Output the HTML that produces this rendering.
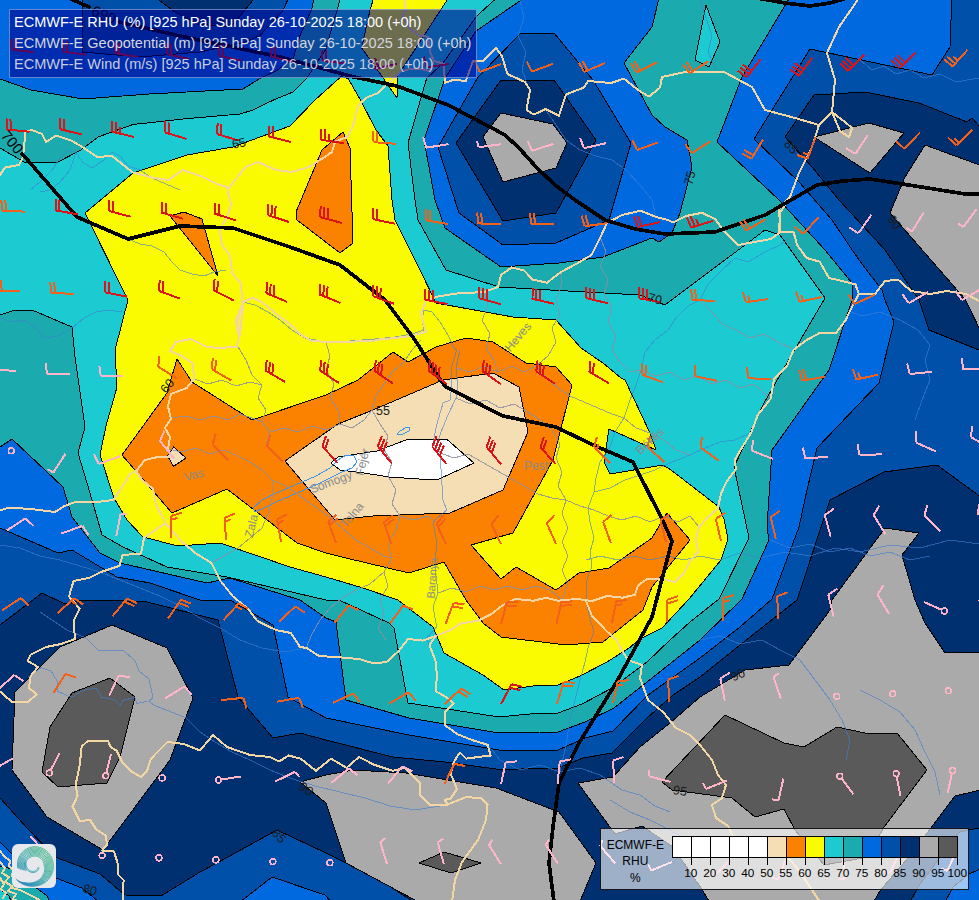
<!DOCTYPE html>
<html><head><meta charset="utf-8"><title>ECMWF-E RHU 925 hPa</title>
<style>
html,body{margin:0;padding:0;background:#003070;}
body{width:979px;height:900px;overflow:hidden;position:relative;font-family:"Liberation Sans",sans-serif;}
#map{position:absolute;left:0;top:0;width:979px;height:900px;overflow:hidden;}
#title{position:absolute;left:9px;top:9px;width:468px;height:69px;box-sizing:border-box;background:rgba(0,0,139,0.57);border:1px solid rgba(190,205,235,0.55);}
#title div{position:absolute;left:4px;white-space:nowrap;font-size:14.5px;line-height:16px;}
#legend{position:absolute;left:600px;top:828px;width:369px;height:62px;box-sizing:border-box;background:rgba(255,255,255,0.62);border:1px solid #15151c;}
#legend .lab{position:absolute;left:-0.7px;width:70px;text-align:center;font-size:12px;line-height:14px;color:#000;}
#legend .bx{position:absolute;top:7px;height:22px;width:19px;box-sizing:border-box;border:1px solid #000;}
#legend .tk{position:absolute;top:28px;width:1px;height:7.5px;background:#000;}
#legend .n{position:absolute;top:36.7px;width:30px;margin-left:-15.2px;text-align:center;font-size:11.8px;line-height:14px;color:#000;}
#logo{position:absolute;left:12px;top:844px;width:44px;height:44px;border-radius:6px;background:#e6e8ec;}
</style></head><body>
<div id="map">
<svg width="979" height="900" viewBox="0 0 979 900" style="position:absolute;left:0;top:0" shape-rendering="crispEdges">
<rect x="0" y="0" width="979" height="900" fill="#003070"/>
<g stroke="#000" stroke-width="1" stroke-linejoin="round">
<polygon fill="#0050aa" points="-6,625 0,625 42,593 65,604 82,600 100,600 147,602 218,620 238,697 273,738 300,733 326,740 393,757 445,762 503,770 540,768 558,768 583,758 612,753 647,718 673,695 700,677 740,645 797,600 830,500 884,472 937,465 985,500 985,350 979,350 929,330 919,300 885,250 839,200 812,167 785,137 814,95 865,92 919,103 967,122 972,118 985,133 985,-6 -6,-6"/>
<polygon fill="#0050aa" points="-6,798 0,798 27,828 55,857 100,874 125,895 161,896 200,872 217,863 277,830 326,853 380,880 420,906 -6,906"/>
<polygon fill="#0050aa" points="985,827 969,830 958.6,832.4 918,887 908,906 985,906"/>
<polygon fill="#0069e0" points="-6,528 0,528 58,553 72,550 117,577 150,583 200,600 230,600 273,625 288,697 326,718 409,735 499,750 540,750 558,750 585,738 613,731 648,695 700,658 740,627 772,599 799,527 807,490 817,448 879,383 894,322 885,300 882,290 859,260 832,220 799,182 754,139 810,49 932,75 950,47 952,-6 -6,-6"/>
<polygon fill="#0069e0" points="-6,842 0,842 12,854 56,878 82,888 104,906 -6,906"/>
<polygon fill="#0069e0" points="235,906 272,877 325,895 335,906"/>
<polygon fill="#0069e0" points="985,867 969,874 953,887 943,906 985,906"/>
<polygon fill="#1baaae" points="-6,447 0,447 12,439 63,487 72,517 100,553 120,563 207,583 230,578 300,600 326,618 336,622 346,700 409,718 499,733 540,732 558,732 585,722 614,708 647,682 700,640 742,599 769,540 767,527 772,450 829,370 852,300 852,283 825,250 779,200 717,142 742,77 792,-6 -6,-6"/>
<polygon fill="#1baaae" points="-6,866 0,866 12,869 47,896 52,906 -6,906"/>
<polygon fill="#1bcbd1" points="-6,889 0,889 9,896 13,906 -6,906"/>
<polygon fill="#1bcbd1" points="-6,148 0,148 24,162 56,163 81,150 98,137 133,124.5 183,119 240,114 253,110 273.5,100 293,92 306.6,78.4 326,49 331,30.6 337,11 341.5,-6 501,-6 476.8,16 442.5,63.7 426.6,78.4 408,143 415,200 418,220 446,270 499,287 550,290 640,295 665,305 765,230 780,235 825,298 787,363 764,403 734,467 749,538 719,599 690,622 670,640 647,662 613,687.5 582,704 558,713 540,713 499,717 408,703 394,628 389,623 339,600 326,600 227,577 167,567 123,547 102,535 90,493 78,453 85,427 75,357 72,327 32,310 15,310 0,315 -6,315"/>
<polygon fill="#fafa00" points="85,213 133,173 187,155 233,147 290,126 315,100 341,76.6 348,78.4 360.5,100 376,130 388,146 392,200 395,220 420,270 436,303 513,317 556,320 581,348 603,363 621,378 625,380 650,433 656,450 609,429 604,462 610,474 663,465 671,470 719,507 724,519 728,539 721,560 689,599 662,628 638,640 630,647.5 607,662 580,676 558,685 540,685 504,690 483,675 444,653 433,627 398,600 363,588 326,577 290,567 220,543 178,546 143,537 127,520 114,498 100,455 106,426 117,387 115,350 128,300"/>
<polygon fill="#fafa00" points="375,-6 370,10 361.7,48 380,73.5 397,98 397.5,76 412,54 451,-6"/>
<polygon fill="#fa8200" points="177,359 192,382 252,420 326,395 358,380 393,352 408,362 436,347 466,338 493,342 526,363 556,367 572,385 553,460 513,533 471,545 501,579 516,567 556,590 579,573 609,568 652,538 667,513 690,540 652,587 643,610 603,642 566,645 501,637 483,623 466,600 444,562 409,573 346,558 326,553 297,543 227,489 172,513 122,455 167,393"/>
<polygon fill="#fa8200" points="170,216 184,212 202,219 218,276"/>
<polygon fill="#fa8200" points="343,132 350,148 353,243 340,253 297,220 296,212 322,150"/>
<polygon fill="#f5deb3" points="285,461 338,424 373,410 443,380 493,373 519,387 528,432 503,490 450,513 373,516 335,520"/>
<polygon fill="#f5deb3" points="167.5,456 173.6,447 186,458 173.6,466.4"/>
<polygon fill="#ffffff" points="331,463 338,457 377,451 407,439.5 447,439.5 474,463 439,479 426,479.5 389,477 364,473 340,470"/>
<polygon fill="#1bcbd1" points="706,5 720,42 709,67 695,60"/>
<polygon fill="#0069e0" points="-6,-6 315,-6 311.5,10 300,35.5 293,59 276,71 260,78.4 243,89 149,94 83,99 31,90 0,79 -6,79"/>
<polygon fill="#0050aa" points="82,-6 82,52 140,57 200,52 245,42 260,35.5 282,12 290.6,-6"/>
<polygon fill="#003070" points="151,-6 175,12 197,24 231,27 258,-6"/>
<polygon fill="#0069e0" points="530,-6 476,31 445,78 424,140 435,200 445,228 501,267 559,263 603,257 652,238 659,242 672,233 680,213 692,167 687,140 665,127 652,115 624,63 652,27 660,-6"/>
<polygon fill="#0050aa" points="438,147 478,77 521,33 554,33 593,80 631,143 609,220 556,243 503,245 459,213"/>
<polygon fill="#003070" points="456,143 501,80 554,80 596,140 556,213 503,221"/>
<polygon fill="#aaaaaa" points="483,137 501,113 553,124 567,143 556,168 503,182"/>
<polygon fill="#aaaaaa" points="814,137 869,123 904,133 870,173"/>
<polygon fill="#aaaaaa" points="925,145 985,167 985,340 965,299 890,213 905,177"/>
<polygon fill="#aaaaaa" points="15,692 60,647 112,625 167,648 193,698 170,760 103,850 47,817 12,770"/>
<polygon fill="#5a5a5a" points="72,693 110,678 135,697 120,757 107,783 58,787 42,772 50,727"/>
<polygon fill="#aaaaaa" points="300,782 326,775 353,770 406,773 496,788 559,812 596,863 578,906 426,906 346,863 326,803"/>
<polygon fill="#5a5a5a" points="419,863 444,852 481,863 451,873"/>
<polygon fill="#aaaaaa" points="578,783 613,777 640,747 670,723 700,697 745,670 789,665 830,610 832,600 885,528 919,533 902,555 915,600 925,623 945,653 985,652 985,789 955,796 931,828 906.6,859.5 880.6,890 871,906 712,906 701,888 673,847 642,826 615,834"/>
<polygon fill="#5a5a5a" points="725,715 784,743 804,747 837,727 865,733 897,733 927,770 899,807 883.5,828 880.6,833.5 863,858 824,865 795,830 784,809 755,817 732,798 672,790 662,782"/>
</g>
<polyline fill="none" stroke="#3f7fd0" stroke-width="1" stroke-linejoin="round" stroke-linecap="round" stroke-opacity="0.6" points="243,302 255,305 268,312 280,320 292,330 305,338 326,342 350,341 375,339 395,337 412,334 424,330 422,320 424,310 432,312 440,322 448,335 454,348 456.7,350 451.7,366.7 452,385 450,400 443,403 436.7,425 433,443 440,453 441.7,480 443,500 446.7,510 433,521.7 436.7,541.7 435,566.7 438,593 433,606.7 436.7,626.7 426.7,638 430,648 436,660 437,676 436,690 446,697 454,703 445,712 445,725 457,734 472,740 488,745 500,760 520,770 540,765 560,772 580,768 600,775 622,790 640,795 655,806 670,812"/>
<polyline fill="none" stroke="#3f7fd0" stroke-width="1" stroke-linejoin="round" stroke-linecap="round" stroke-opacity="0.6" points="460,350 456,368 458,385 456,398 448,415 441,432 436,448"/>
<polyline fill="none" stroke="#3f7fd0" stroke-width="1" stroke-linejoin="round" stroke-linecap="round" stroke-opacity="0.6" points="795,233 780,245 765,252 748,262 735,258 722,270 708,284 700,300 688,306 676,318 668,330 655,340 645,352 641,370 636,385 630,400 624,418 615,432 610,447 600,462 596,478 594,492 588,508 590,522 594,538 590,552 592,566 587,580 586,601 590,618 594,632 588,648 585,662 580,680 575,700 570,720 566,745 560,772"/>
<polyline fill="none" stroke="#3f7fd0" stroke-width="1" stroke-linejoin="round" stroke-linecap="round" stroke-opacity="0.6" points="594,492 610,488 625,480 640,475 655,470 672,462 690,455 705,448 720,442 735,440 752,432"/>
<polyline fill="none" stroke="#3f7fd0" stroke-width="1" stroke-linejoin="round" stroke-linecap="round" stroke-opacity="0.6" points="586,560 600,556 618,560 634,556 650,560 668,556 684,560 700,556 720,560 740,553 760,558 785,552 810,556 835,548 860,552 890,545 920,548 950,540 979,544"/>
<polyline fill="none" stroke="#3f7fd0" stroke-width="1" stroke-linejoin="round" stroke-linecap="round" stroke-opacity="0.6" points="0,545 20,548 40,556 60,560 80,566 100,572 120,580 140,588 160,596 180,606 200,618 220,628 240,640 262,648 285,652 306,648"/>
<polyline fill="none" stroke="#3f7fd0" stroke-width="1" stroke-linejoin="round" stroke-linecap="round" stroke-opacity="0.6" points="40,612 55,622 67,630 86,638 98,650 122.6,650 135,660.6 139,671 149,679 153,697.4 149,701.5 155,705.6 175.7,713.8 186,717.8 200,732 215,742 232,752 250,760 270,770 290,778 315,786 340,792 365,798 390,806 415,810 440,806"/>
<polyline fill="none" stroke="#3f7fd0" stroke-width="1" stroke-linejoin="round" stroke-linecap="round" stroke-opacity="0.6" points="28.6,677 40.9,667.8 51,670.9 57,681 57,691 71.5,697.4 81.7,691 96,688 102,697.4 114.4,699.5 120.5,705.6 122.6,700.5 134.8,697.4 136.9,703.5 147,701.5"/>
<polyline fill="none" stroke="#3f7fd0" stroke-width="1" stroke-linejoin="round" stroke-linecap="round" stroke-opacity="0.6" points="0,318 12,322 24,320 36,328 44,338 58,336 72,328 84,318 96,312 108,310 122,312"/>
<polyline fill="none" stroke="#3f7fd0" stroke-width="1" stroke-linejoin="round" stroke-linecap="round" stroke-opacity="0.6" points="30,190 40,182 52,170 60,158 68,150 76,152 82,162 92,168 104,160 112,152 120,156 128,166 140,170 152,178 166,184 180,190"/>
<polyline fill="none" stroke="#3f7fd0" stroke-width="1" stroke-linejoin="round" stroke-linecap="round" stroke-opacity="0.6" points="76,152 70,170 60,182 50,190 40,192"/>
<polyline fill="none" stroke="#3f7fd0" stroke-width="1" stroke-linejoin="round" stroke-linecap="round" stroke-opacity="0.6" points="128,239 140,244 152,246 164,252 172,262 180,270 192,274 204,276 214,272 226,270"/>
<polyline fill="none" stroke="#3f7fd0" stroke-width="1" stroke-linejoin="round" stroke-linecap="round" stroke-opacity="0.6" points="520,0 524,18 518,36 526,52 522,70 528,86"/>
<polyline fill="none" stroke="#3f7fd0" stroke-width="1" stroke-linejoin="round" stroke-linecap="round" stroke-opacity="0.6" points="545,109 556,125 566,140 580,150 596,156 612,160 626,170 640,185 652,200 656,217"/>
<polyline fill="none" stroke="#3f7fd0" stroke-width="1" stroke-linejoin="round" stroke-linecap="round" stroke-opacity="0.6" points="700,0 706,18 712,36 708,52 716,70"/>
<polyline fill="none" stroke="#3f7fd0" stroke-width="1" stroke-linejoin="round" stroke-linecap="round" stroke-opacity="0.6" points="860,60 872,70 884,66 896,74 910,70 924,78 940,74 956,82 979,78"/>
<polyline fill="none" stroke="#3f7fd0" stroke-width="1" stroke-linejoin="round" stroke-linecap="round" stroke-opacity="0.6" points="846,310 862,316 880,312 900,320 918,330 930,345 925,360 930,380 922,400 915,420"/>
<polyline fill="none" stroke="#3f7fd0" stroke-width="1" stroke-linejoin="round" stroke-linecap="round" stroke-opacity="0.6" points="770,540 790,548 810,544 830,552 850,548 870,556 890,552 910,560 930,556"/>
<polyline fill="none" stroke="#3f7fd0" stroke-width="1" stroke-linejoin="round" stroke-linecap="round" stroke-opacity="0.6" points="700,640 720,636 740,644 762,640 780,650 800,660 815,680 830,700 842,720 850,740 846,760"/>
<polyline fill="none" stroke="#3f7fd0" stroke-width="1" stroke-linejoin="round" stroke-linecap="round" stroke-opacity="0.6" points="860,690 880,700 900,712 915,730 925,752 935,772 940,795"/>
<polyline fill="none" stroke="#3f7fd0" stroke-width="1" stroke-linejoin="round" stroke-linecap="round" stroke-opacity="0.6" points="610,800 630,812 650,820 670,830 690,842 700,860"/>
<polyline fill="none" stroke="#3d94e8" stroke-width="1" stroke-linejoin="round" stroke-linecap="round"  points="253,508 262,500 274,494 288,488 302,482 316,476 330,468 338,460 346,455 354,456 357,462 352,468 342,472 330,478 318,484 304,490 290,496 276,502 264,508 255,512 253,508"/>
<polyline fill="none" stroke="#3d94e8" stroke-width="1" stroke-linejoin="round" stroke-linecap="round"  points="397,434 400,431 407,427 410,428 409,431 401,435 397,434"/>
<polyline fill="none" stroke="#8b8fa0" stroke-width="1" stroke-linejoin="round" stroke-linecap="round" stroke-opacity="0.85" points="238,347 246,360 252,375 262,385 258,398 266,410 262,422 270,432 266,446"/>
<polyline fill="none" stroke="#8b8fa0" stroke-width="1" stroke-linejoin="round" stroke-linecap="round" stroke-opacity="0.85" points="171,418 186,416 200,420 214,416 228,420 240,414 252,418 262,422"/>
<polyline fill="none" stroke="#8b8fa0" stroke-width="1" stroke-linejoin="round" stroke-linecap="round" stroke-opacity="0.85" points="194,379 208,384 222,380 236,386 250,382 262,385"/>
<polyline fill="none" stroke="#8b8fa0" stroke-width="1" stroke-linejoin="round" stroke-linecap="round" stroke-opacity="0.85" points="168,449 182,452 196,448 210,454 224,450 238,456 250,462 262,470 272,480"/>
<polyline fill="none" stroke="#8b8fa0" stroke-width="1" stroke-linejoin="round" stroke-linecap="round" stroke-opacity="0.85" points="270,432 284,428 298,432 312,426 326,430 340,424 352,428 364,420 372,410"/>
<polyline fill="none" stroke="#8b8fa0" stroke-width="1" stroke-linejoin="round" stroke-linecap="round" stroke-opacity="0.85" points="326,342 330,356 326,370 334,384 330,398 338,410 340,424"/>
<polyline fill="none" stroke="#8b8fa0" stroke-width="1" stroke-linejoin="round" stroke-linecap="round" stroke-opacity="0.85" points="372,410 376,396 384,384 392,372 404,362 412,350 421,340"/>
<polyline fill="none" stroke="#8b8fa0" stroke-width="1" stroke-linejoin="round" stroke-linecap="round" stroke-opacity="0.85" points="372,410 380,424 388,436 384,450 392,462 388,476 396,490 392,504 400,516"/>
<polyline fill="none" stroke="#8b8fa0" stroke-width="1" stroke-linejoin="round" stroke-linecap="round" stroke-opacity="0.85" points="400,516 414,520 428,516 436,522"/>
<polyline fill="none" stroke="#8b8fa0" stroke-width="1" stroke-linejoin="round" stroke-linecap="round" stroke-opacity="0.85" points="400,516 396,530 388,544 392,558 384,572 388,586 380,600 384,614 378,628 386,640"/>
<polyline fill="none" stroke="#8b8fa0" stroke-width="1" stroke-linejoin="round" stroke-linecap="round" stroke-opacity="0.85" points="272,480 286,486 300,496 314,506 328,516 342,528 356,540 370,548 384,556 392,558"/>
<polyline fill="none" stroke="#8b8fa0" stroke-width="1" stroke-linejoin="round" stroke-linecap="round" stroke-opacity="0.85" points="211,563 224,556 238,548 250,538 262,528 268,514 272,498 272,480"/>
<polyline fill="none" stroke="#8b8fa0" stroke-width="1" stroke-linejoin="round" stroke-linecap="round" stroke-opacity="0.85" points="306,648 312,634 320,620 330,608 342,598 356,590 370,584 384,572"/>
<polyline fill="none" stroke="#8b8fa0" stroke-width="1" stroke-linejoin="round" stroke-linecap="round" stroke-opacity="0.85" points="456,368 470,372 484,366 498,372 512,366 524,372 536,366"/>
<polyline fill="none" stroke="#8b8fa0" stroke-width="1" stroke-linejoin="round" stroke-linecap="round" stroke-opacity="0.85" points="456,398 470,404 486,400 500,408 514,404 528,412 540,420 552,430 560,444 556,458 562,472 558,486 566,500"/>
<polyline fill="none" stroke="#8b8fa0" stroke-width="1" stroke-linejoin="round" stroke-linecap="round" stroke-opacity="0.85" points="536,366 548,356 556,342 552,328 560,314 556,300 561,286 561,272"/>
<polyline fill="none" stroke="#8b8fa0" stroke-width="1" stroke-linejoin="round" stroke-linecap="round" stroke-opacity="0.85" points="536,366 546,378 558,388 570,396 584,402 598,408 612,414 624,418"/>
<polyline fill="none" stroke="#8b8fa0" stroke-width="1" stroke-linejoin="round" stroke-linecap="round" stroke-opacity="0.85" points="484,292 488,306 482,320 490,334 486,348 494,360 498,372"/>
<polyline fill="none" stroke="#8b8fa0" stroke-width="1" stroke-linejoin="round" stroke-linecap="round" stroke-opacity="0.85" points="600,237 606,252 600,266 608,280 604,294 612,308 608,322 616,336 612,350 620,362 630,372 641,370"/>
<polyline fill="none" stroke="#8b8fa0" stroke-width="1" stroke-linejoin="round" stroke-linecap="round" stroke-opacity="0.85" points="641,370 656,376 670,372 684,380 698,376 712,384 726,380 740,388 754,384 770,398"/>
<polyline fill="none" stroke="#8b8fa0" stroke-width="1" stroke-linejoin="round" stroke-linecap="round" stroke-opacity="0.85" points="700,300 712,312 722,324 736,330 750,338 764,334 778,342 793,349"/>
<polyline fill="none" stroke="#8b8fa0" stroke-width="1" stroke-linejoin="round" stroke-linecap="round" stroke-opacity="0.85" points="624,418 636,428 650,433 664,440 676,450 690,455"/>
<polyline fill="none" stroke="#8b8fa0" stroke-width="1" stroke-linejoin="round" stroke-linecap="round" stroke-opacity="0.85" points="566,500 580,506 594,510 608,516 622,520 636,516 650,522 664,516 678,522 690,516 699,527"/>
<polyline fill="none" stroke="#8b8fa0" stroke-width="1" stroke-linejoin="round" stroke-linecap="round" stroke-opacity="0.85" points="440,453 454,458 468,454 482,462 496,470 510,478 524,486 538,494 552,498 566,500"/>
<polyline fill="none" stroke="#8b8fa0" stroke-width="1" stroke-linejoin="round" stroke-linecap="round" stroke-opacity="0.85" points="566,500 562,514 568,528 562,542 568,556 562,570 568,584 562,600"/>
<polyline fill="none" stroke="#8b8fa0" stroke-width="1" stroke-linejoin="round" stroke-linecap="round" stroke-opacity="0.85" points="438,593 452,588 466,592 480,586 494,590 508,586 522,590 536,586 550,590 562,600"/>
<polyline fill="none" stroke="#f3d6a2" stroke-width="2" stroke-linejoin="round" stroke-linecap="round"  points="0,175 5,167.5 19,165 23,157 25.5,131.7 32,130 42,134 46,142 56,135.5 71.5,140.6 84,148 97,157 112,156 133,172.6 153,177.7 168.5,180 182.6,170 201.7,176.4 217,184 227,187 231,204.5 227,217 219.6,230 222,245 230,255.6 232,273 241,283.6 242.6,304 237.5,322 240,335 243.4,302"/>
<polyline fill="none" stroke="#f3d6a2" stroke-width="2" stroke-linejoin="round" stroke-linecap="round"  points="227.7,190 235,180 245.5,167 258,162 276,170 291.5,172 309,167 324.7,157 332,152 335,141.7 347.7,136.6 352.8,126.4 358,106 365.6,98 378,93 386,85.5 393.5,78.4 399.6,72 410,69 420,68.6 429,71 434,61 443.7,63.7 445,83 453.5,79.7 465.8,81 473,61 476.8,60.7 483,60.7 489,55 496,48 502,56 507.4,74 525,82 530,90 526.5,110 534,114.6 545.6,109 559,115.7 566,94.4 584,87.6 588,81 611,83 624,78.6 638,90 649,96.6 660,87.6 662,77 685,72 724,72 752,87 765,110 795,118 819,125 832,112 845,122 852,128 849,137 840,131 832,112"/>
<polyline fill="none" stroke="#f3d6a2" stroke-width="2" stroke-linejoin="round" stroke-linecap="round"  points="832,112 835,80 827,53 839,27 859,-2"/>
<polyline fill="none" stroke="#f3d6a2" stroke-width="2" stroke-linejoin="round" stroke-linecap="round"  points="434,61 430,51.5 427.8,36.8 419,35.5 409.4,28 403,16 405.7,8.6 404.5,-2"/>
<polyline fill="none" stroke="#f3d6a2" stroke-width="2" stroke-linejoin="round" stroke-linecap="round"  points="819,125 812,147 799,173 790,197 780,213 779,233"/>
<polyline fill="none" stroke="#f3d6a2" stroke-width="2" stroke-linejoin="round" stroke-linecap="round"  points="779,209.5 790,196.5"/>
<polyline fill="none" stroke="#f3d6a2" stroke-width="2" stroke-linejoin="round" stroke-linecap="round"  points="380,339.4 395,338 410.6,336 426,331.8 423,322.6 421,313 426,301 438,296.5 456.6,293.5 484,292 498,287 501,275 511.8,267.4 524,270.5 533,279.7 547,282.7 561,272 576,264 591.5,255 600.6,236.8 607,223 622,215 640.5,210.7 656,217 668,220 673,222.6 686,216 702,212.8 715,219 725,232 738,245 754.5,242 770.8,239 780.5,232 793.6,232 797,245 806.6,258 819.7,261.7 829,278 842.5,281 855.5,284.5 858.8,294 852,307 845.7,320 836,333 819.7,333 806.6,340 793.6,349.7 787,366 774,379 770.8,398.5 757.7,415 756,420 751.5,432 742,447.6 734.6,460 736,469 727,481 721,493.5 717.7,509 707,518 699,527 696,539.5 698,552 690,561 684,573 675,582 662.6,579 647,579 638,585.5 635,594.7 622.7,597.7 607,596 592,601 576.8,599 558,600.7 546,597.7 533.6,600.7 515,599 503,605 490.7,614.5 478.4,620.6 460,623.7 450.8,630 435.5,636 423,640.6 408,639 398.7,651 386.5,662 374,663.5 359,659 340.5,657.4 319,656 306.8,648 300,647 291,633 275.8,630 257.4,621 248,608.7 233,596.5 220.6,581 211.5,563 196,553.5 181,541 165.5,523 156,504.5 153,489 142,480 136,471 145,460 157.6,457 171,457 168,449 170,437 165,428 171,418.7 168,406.5 171,394 186.7,388 194,379 193,363.5 182,356 170,351 176,342 191,339 206.6,346.7 219,348 237,346.7 238.8,336 235.7,320.6 243.4,302 252.6,297.7 262,302 277,314.5 289.4,323.7 298.6,333 311,340.6 326,342 344.5,342 375,340.6 380,339.4"/>
<polyline fill="none" stroke="#f3d6a2" stroke-width="2" stroke-linejoin="round" stroke-linecap="round"  points="780.5,232 779,209.5 790,196.5"/>
<polyline fill="none" stroke="#f3d6a2" stroke-width="2" stroke-linejoin="round" stroke-linecap="round"  points="858.8,294 875,294 885,281 898,279.6 911,291 930.5,294 946.7,291 966,294 981,302"/>
<polyline fill="none" stroke="#f3d6a2" stroke-width="2" stroke-linejoin="round" stroke-linecap="round"  points="0,510.6 9,507.6 30.6,509 55,512 64.4,506 76.6,501.5 101,501.5 113.4,500 122.6,486 130,474 136,471"/>
<polyline fill="none" stroke="#f3d6a2" stroke-width="2" stroke-linejoin="round" stroke-linecap="round"  points="165.5,523 144,538 141,553.5 122.6,555 119.5,565.8 101,572 89,578 73.5,581 69,596.5 79.7,608.7 73.5,621 75,639 61,644 46,647 30.6,654.7 27.6,660.8 38,667 30.6,676 29,688 36.8,694.5 27.6,702 12,702 0,691.5"/>
<polyline fill="none" stroke="#f3d6a2" stroke-width="2" stroke-linejoin="round" stroke-linecap="round"  points="435.5,636 429.4,645 435.5,660.5 437,675.8 435.5,691 446,697 454,703.4 444.7,712.6 444.7,725 457,734 472,740 487.6,744.8 490.7,755.5 478.4,757 466,758.6 460,752.4 454,761.6 450.8,774 457,789 450.8,798.4 444.7,800 447.7,804.5 466,797 481.5,798.4 487.6,804.5 486,820 478,840 462,862 455,880 452,902"/>
<polyline fill="none" stroke="#f3d6a2" stroke-width="2" stroke-linejoin="round" stroke-linecap="round"  points="81.7,746.5 87.8,741 108,741 111,747.5 116.4,750.5 122.6,762.8 130.7,771 141,777 147,771 151,758.7 159,750.5 167.5,742 184,744 200,750.5 213,735 227,747 250,755 270,757 279,761.6 288.4,755.5 300.6,758.6 316,770.8 331,758.6 346.6,767.8 359,757 374,764.7 392.6,770.8 404.8,767.8 414,777 420,783 420,795.4 429.4,804.5 447.7,804.5"/>
<polyline fill="none" stroke="#f3d6a2" stroke-width="2" stroke-linejoin="round" stroke-linecap="round"  points="586,601 592,616 607,631.5 616.6,640.6 623,652 628,660 642,665 640,678 648,700 663,712 676,728 690,735 700,745 712,760 718,775 726,785 722,798 712,805 716,818 728,826 736,842 752,848 770,845 786,855 800,872 812,890 820,902"/>
<polyline fill="none" stroke="#f3d6a2" stroke-width="2" stroke-linejoin="round" stroke-linecap="round"  points="81.7,746.5 79.7,765 75.6,785 77.6,796 72.5,806.6 79.7,821 90,820 96,829 106,836 107,845 102,850.5 114,851.5 118.5,866 117.5,874 123.6,880 122.6,902"/>
<polyline fill="none" stroke="#f3d6a2" stroke-width="2" stroke-linejoin="round" stroke-linecap="round"  points="0,862 5,868 2,873 9,877 5,882 12,886 8,891 16,894 13,899 20,902"/>
<polyline fill="none" stroke="#f3d6a2" stroke-width="2" stroke-linejoin="round" stroke-linecap="round"  points="0,878 4,884 1,889 6,893 3,898"/>
<polyline fill="none" stroke="#f3d6a2" stroke-width="2" stroke-linejoin="round" stroke-linecap="round"  points="0,851 4,856 10,861 9,866 13,870 12,876"/>
<polyline fill="none" stroke="#f3d6a2" stroke-width="2" stroke-linejoin="round" stroke-linecap="round"  points="12,888 20,890 28,894 36,898 42,902"/>
<polyline fill="none" stroke="#000" stroke-width="3.7" stroke-linejoin="round" stroke-linecap="round"  points="69,-2 89,7"/>
<polyline fill="none" stroke="#000" stroke-width="3.7" stroke-linejoin="round" stroke-linecap="round"  points="119,22 180,36 280,57 354,77 397,86 448,105 490,127 505,135 519,148 537,168 555,185 575,200 605,220 635,229 665,234 715,232 765,215 817,185 843,181 870,179 915,186 965,194 985,194"/>
<polyline fill="none" stroke="#000" stroke-width="3.7" stroke-linejoin="round" stroke-linecap="round"  points="22,154 25,157 77,217 128,239 180,226 233,228 290,247 340,265 385,300 415,340 441,381 446,387 503,416 556,427 593,445 633,462 662,519 672,541 667,560 652,617 616,683 579,743 559,783 553,827 549,863 554,902"/>
<polyline fill="none" stroke="#000" stroke-width="3.7" stroke-linejoin="round" stroke-linecap="round"  points="757,-2 785,3 810,6 830,3 847,-2"/>
<path d="M34.1 52.1L11.7 49.7M11.7 49.7L11.0 38.7M15.6 50.1L14.9 39.1" fill="none" stroke="#dc1418" stroke-width="2" stroke-linecap="butt"/>
<path d="M85.8 54.7L63.5 51.6M63.5 51.6L63.2 40.6M67.4 52.1L67.0 41.1" fill="none" stroke="#dc1418" stroke-width="2" stroke-linecap="butt"/>
<path d="M137.6 57.0L115.4 53.1M115.4 53.1L115.4 42.1M119.3 53.8L119.3 42.8" fill="none" stroke="#dc1418" stroke-width="2" stroke-linecap="butt"/>
<path d="M189.4 59.0L167.4 54.4M167.4 54.4L167.5 43.4M171.2 55.2L171.3 44.2" fill="none" stroke="#dc1418" stroke-width="2" stroke-linecap="butt"/>
<path d="M241.3 60.7L219.4 55.7M219.4 55.7L219.5 44.7M223.2 56.5L223.3 45.5" fill="none" stroke="#dc1418" stroke-width="2" stroke-linecap="butt"/>
<path d="M293.2 62.1L271.3 56.6M271.3 56.6L271.6 45.6M275.1 57.6L275.3 46.6" fill="none" stroke="#dc1418" stroke-width="2" stroke-linecap="butt"/>
<path d="M345.1 63.1L322.7 61.1M322.7 61.1L321.9 50.2M326.6 61.5L325.7 50.5" fill="none" stroke="#dc1418" stroke-width="2" stroke-linecap="butt"/>
<path d="M397.0 63.8L375.2 69.2M375.2 69.2L371.3 58.9M379.0 68.3L375.1 58.0" fill="none" stroke="#dc1418" stroke-width="2" stroke-linecap="butt"/>
<path d="M449.0 64.1L426.7 67.3M426.7 67.3L423.8 56.7" fill="none" stroke="#dc1418" stroke-width="2" stroke-linecap="butt"/>
<path d="M500.9 64.2L479.8 71.9M479.8 71.9L475.0 62.0" fill="none" stroke="#f2601a" stroke-width="2" stroke-linecap="butt"/>
<path d="M552.9 63.9L531.7 71.6M531.7 71.6L527.0 61.7" fill="none" stroke="#f2601a" stroke-width="2" stroke-linecap="butt"/>
<path d="M604.8 63.2L584.1 72.0M584.1 72.0L578.9 62.3M587.7 70.5L582.5 60.8" fill="none" stroke="#f2601a" stroke-width="2" stroke-linecap="butt"/>
<path d="M656.7 62.3L636.7 72.5M636.7 72.5L630.9 63.1M640.2 70.7L634.4 61.4" fill="none" stroke="#f2601a" stroke-width="2" stroke-linecap="butt"/>
<path d="M708.6 61.0L689.8 73.3M689.8 73.3L683.2 64.5M693.0 71.1L686.5 62.3" fill="none" stroke="#f2601a" stroke-width="2" stroke-linecap="butt"/>
<path d="M760.5 59.4L746.7 77.1M746.7 77.1L737.8 70.7M749.1 74.1L740.2 67.6M751.5 71.0L742.6 64.5" fill="none" stroke="#dc1418" stroke-width="2" stroke-linecap="butt"/>
<path d="M812.4 57.5L799.1 75.7M799.1 75.7L790.0 69.5M801.4 72.5L792.3 66.4M803.7 69.4L794.6 63.2" fill="none" stroke="#dc1418" stroke-width="2" stroke-linecap="butt"/>
<path d="M864.2 55.2L848.3 71.1M848.3 71.1L840.2 63.6M851.0 68.3L843.0 60.8M853.8 65.6L845.7 58.1" fill="none" stroke="#dc1418" stroke-width="2" stroke-linecap="butt"/>
<path d="M915.9 52.6L899.5 68.0M899.5 68.0L891.6 60.2M902.3 65.3L894.5 57.6M905.2 62.6L897.4 54.9" fill="none" stroke="#dc1418" stroke-width="2" stroke-linecap="butt"/>
<path d="M967.6 49.7L952.6 66.4M952.6 66.4L944.1 59.3M955.2 63.5L946.8 56.4M957.8 60.6L952.8 56.4" fill="none" stroke="#f2601a" stroke-width="2" stroke-linecap="butt"/>
<path d="M29.5 131.8L7.1 129.5M7.1 129.5L6.5 118.5M11.0 129.9L10.4 118.9" fill="none" stroke="#dc1418" stroke-width="2" stroke-linecap="butt"/>
<path d="M81.7 134.5L59.9 129.1M59.9 129.1L60.1 118.1M63.7 130.0L63.9 119.0" fill="none" stroke="#dc1418" stroke-width="2" stroke-linecap="butt"/>
<path d="M134.0 136.9L112.1 131.8M112.1 131.8L112.3 120.8M115.9 132.7L116.1 121.7M119.7 133.6L119.8 127.1" fill="none" stroke="#dc1418" stroke-width="2" stroke-linecap="butt"/>
<path d="M186.4 138.9L164.9 132.4M164.9 132.4L165.2 121.4M168.6 133.5L169.0 122.5" fill="none" stroke="#dc1418" stroke-width="2" stroke-linecap="butt"/>
<path d="M238.7 140.6L217.2 134.1M217.2 134.1L217.6 123.1M221.0 135.2L221.3 124.2" fill="none" stroke="#dc1418" stroke-width="2" stroke-linecap="butt"/>
<path d="M291.1 142.0L269.3 136.6M269.3 136.6L269.5 125.6M273.1 137.5L273.3 126.5" fill="none" stroke="#dc1418" stroke-width="2" stroke-linecap="butt"/>
<path d="M343.6 143.1L321.3 139.9M321.3 139.9L321.0 128.9M325.1 140.5L324.8 129.5M329.0 141.0L328.8 134.5" fill="none" stroke="#dc1418" stroke-width="2" stroke-linecap="butt"/>
<path d="M396.0 143.8L373.6 142.2M373.6 142.2L372.6 131.2M377.5 142.5L376.5 131.5" fill="none" stroke="#f2601a" stroke-width="2" stroke-linecap="butt"/>
<path d="M448.5 144.1L426.2 147.7M426.2 147.7L423.2 137.1" fill="none" stroke="#ffb4c8" stroke-width="2" stroke-linecap="butt"/>
<path d="M500.9 144.2L478.6 147.3M478.6 147.3L476.9 141.0" fill="none" stroke="#ffb4c8" stroke-width="2" stroke-linecap="butt"/>
<path d="M553.4 143.9L532.0 150.8M532.0 150.8L527.5 140.8" fill="none" stroke="#ffb4c8" stroke-width="2" stroke-linecap="butt"/>
<path d="M605.8 143.2L583.9 148.3M583.9 148.3L580.2 137.9" fill="none" stroke="#ffb4c8" stroke-width="2" stroke-linecap="butt"/>
<path d="M658.3 142.3L637.1 150.0M637.1 150.0L632.4 140.0" fill="none" stroke="#f2601a" stroke-width="2" stroke-linecap="butt"/>
<path d="M710.7 141.0L691.8 153.2M691.8 153.2L685.2 144.4" fill="none" stroke="#f2601a" stroke-width="2" stroke-linecap="butt"/>
<path d="M763.1 139.3L751.5 158.6M751.5 158.6L741.8 153.3M753.5 155.3L743.9 149.9" fill="none" stroke="#f2601a" stroke-width="2" stroke-linecap="butt"/>
<path d="M815.4 137.3L807.7 158.5M807.7 158.5L797.3 155.1M809.0 154.8L802.9 152.8" fill="none" stroke="#f2601a" stroke-width="2" stroke-linecap="butt"/>
<path d="M867.7 135.0L855.5 153.9M855.5 153.9L846.0 148.2" fill="none" stroke="#ffb4c8" stroke-width="2" stroke-linecap="butt"/>
<path d="M920.0 132.4L904.6 148.8M904.6 148.8L896.3 141.6" fill="none" stroke="#f2601a" stroke-width="2" stroke-linecap="butt"/>
<path d="M972.2 129.4L956.3 145.3M956.3 145.3L948.2 137.8M959.0 142.6L954.3 138.1" fill="none" stroke="#f2601a" stroke-width="2" stroke-linecap="butt"/>
<path d="M24.9 211.6L2.5 210.8M2.5 210.8L1.2 199.9M6.4 210.9L5.1 200.0" fill="none" stroke="#f2601a" stroke-width="2" stroke-linecap="butt"/>
<path d="M77.7 214.3L55.5 210.4M55.5 210.4L55.5 199.4M59.4 211.1L59.4 200.1" fill="none" stroke="#dc1418" stroke-width="2" stroke-linecap="butt"/>
<path d="M130.5 216.7L108.8 210.9M108.8 210.9L109.0 199.9M112.5 211.9L112.8 200.9" fill="none" stroke="#dc1418" stroke-width="2" stroke-linecap="butt"/>
<path d="M183.3 218.8L161.7 212.6M161.7 212.6L162.0 201.6M165.5 213.7L165.8 202.7" fill="none" stroke="#dc1418" stroke-width="2" stroke-linecap="butt"/>
<path d="M236.2 220.6L214.8 213.6M214.8 213.6L215.2 202.6M218.5 214.8L219.0 203.8" fill="none" stroke="#dc1418" stroke-width="2" stroke-linecap="butt"/>
<path d="M289.1 222.0L267.7 215.0M267.7 215.0L268.2 204.0M271.4 216.2L271.9 205.2M275.1 217.4L275.6 206.4" fill="none" stroke="#dc1418" stroke-width="2" stroke-linecap="butt"/>
<path d="M342.0 223.0L320.3 217.2M320.3 217.2L320.6 206.2M324.1 218.2L324.4 207.2M327.8 219.2L328.1 208.2" fill="none" stroke="#dc1418" stroke-width="2" stroke-linecap="butt"/>
<path d="M395.0 223.8L373.0 219.1M373.0 219.1L373.1 208.1M376.8 219.9L376.9 208.9" fill="none" stroke="#dc1418" stroke-width="2" stroke-linecap="butt"/>
<path d="M448.0 224.1L425.8 220.2M425.8 220.2L425.8 209.2M429.6 220.9L429.6 209.9" fill="none" stroke="#f2601a" stroke-width="2" stroke-linecap="butt"/>
<path d="M500.9 224.2L478.4 223.4M478.4 223.4L477.1 212.5M482.3 223.5L481.0 212.6" fill="none" stroke="#f2601a" stroke-width="2" stroke-linecap="butt"/>
<path d="M553.9 223.9L531.4 223.9M531.4 223.9L529.8 213.0M535.3 223.9L533.7 213.0" fill="none" stroke="#f2601a" stroke-width="2" stroke-linecap="butt"/>
<path d="M606.8 223.2L584.6 226.3M584.6 226.3L581.6 215.7M588.4 225.8L585.5 215.2" fill="none" stroke="#f2601a" stroke-width="2" stroke-linecap="butt"/>
<path d="M659.8 222.2L637.8 226.9M637.8 226.9L634.2 216.5M641.6 226.1L638.1 215.7" fill="none" stroke="#dc1418" stroke-width="2" stroke-linecap="butt"/>
<path d="M712.7 220.9L691.2 227.5M691.2 227.5L686.9 217.4M694.9 226.3L690.6 216.2M698.7 225.2L696.1 219.2" fill="none" stroke="#dc1418" stroke-width="2" stroke-linecap="butt"/>
<path d="M765.6 219.2L746.1 230.5M746.1 230.5L739.9 221.4M749.5 228.5L743.3 219.4" fill="none" stroke="#f2601a" stroke-width="2" stroke-linecap="butt"/>
<path d="M818.5 217.2L803.4 233.9M803.4 233.9L795.0 226.9" fill="none" stroke="#f2601a" stroke-width="2" stroke-linecap="butt"/>
<path d="M871.3 214.9L858.4 233.3M858.4 233.3L849.1 227.3" fill="none" stroke="#ffb4c8" stroke-width="2" stroke-linecap="butt"/>
<path d="M924.0 212.2L912.1 231.3M912.1 231.3L906.5 228.0" fill="none" stroke="#ffb4c8" stroke-width="2" stroke-linecap="butt"/>
<path d="M976.8 209.1L963.2 227.1M963.2 227.1L957.9 223.4" fill="none" stroke="#ffb4c8" stroke-width="2" stroke-linecap="butt"/>
<path d="M20.4 291.3L-2.1 290.5M-2.1 290.5L-3.4 279.6M1.8 290.7L0.5 279.7" fill="none" stroke="#f2601a" stroke-width="2" stroke-linecap="butt"/>
<path d="M73.6 294.1L51.2 292.6M51.2 292.6L50.2 281.6M55.1 292.8L54.1 281.9" fill="none" stroke="#f2601a" stroke-width="2" stroke-linecap="butt"/>
<path d="M126.9 296.6L104.9 292.3M104.9 292.3L104.9 281.3M108.7 293.0L108.7 282.0" fill="none" stroke="#dc1418" stroke-width="2" stroke-linecap="butt"/>
<path d="M180.3 298.7L159.1 291.0M159.1 291.0L159.7 280.0M162.8 292.4L163.4 281.4" fill="none" stroke="#dc1418" stroke-width="2" stroke-linecap="butt"/>
<path d="M233.7 300.5L213.6 290.3M213.6 290.3L214.6 279.3M217.1 292.1L218.0 281.1" fill="none" stroke="#dc1418" stroke-width="2" stroke-linecap="butt"/>
<path d="M287.1 301.9L266.4 293.1M266.4 293.1L267.1 282.2M270.0 294.7L270.7 283.7M273.6 296.2L274.3 285.2" fill="none" stroke="#dc1418" stroke-width="2" stroke-linecap="butt"/>
<path d="M340.5 303.0L319.7 294.6M319.7 294.6L320.3 283.6M323.3 296.0L323.9 285.1M326.9 297.5L327.6 286.5" fill="none" stroke="#dc1418" stroke-width="2" stroke-linecap="butt"/>
<path d="M394.0 303.7L372.8 296.1M372.8 296.1L373.4 285.1M376.5 297.4L377.1 286.4M380.2 298.7L380.7 287.7" fill="none" stroke="#dc1418" stroke-width="2" stroke-linecap="butt"/>
<path d="M447.5 304.1L425.4 299.8M425.4 299.8L425.4 288.8M429.2 300.6L429.3 289.6M433.0 301.3L433.1 290.3" fill="none" stroke="#dc1418" stroke-width="2" stroke-linecap="butt"/>
<path d="M500.9 304.2L479.2 298.3M479.2 298.3L479.5 287.4M483.0 299.4L483.2 288.4M486.7 300.4L487.0 289.4" fill="none" stroke="#dc1418" stroke-width="2" stroke-linecap="butt"/>
<path d="M554.4 303.9L532.5 298.8M532.5 298.8L532.6 287.8M536.3 299.7L536.4 288.7M540.1 300.6L540.2 289.6" fill="none" stroke="#dc1418" stroke-width="2" stroke-linecap="butt"/>
<path d="M607.9 303.2L585.9 298.1M585.9 298.1L586.1 287.1M589.7 299.0L589.9 288.0M593.5 299.9L593.7 288.9" fill="none" stroke="#dc1418" stroke-width="2" stroke-linecap="butt"/>
<path d="M661.3 302.2L639.2 298.3M639.2 298.3L639.2 287.3M643.0 299.0L643.0 288.0M646.8 299.6L646.8 288.6" fill="none" stroke="#dc1418" stroke-width="2" stroke-linecap="butt"/>
<path d="M714.7 300.8L692.3 300.1M692.3 300.1L691.0 289.1M696.2 300.2L694.9 289.3" fill="none" stroke="#f2601a" stroke-width="2" stroke-linecap="butt"/>
<path d="M768.1 299.1L745.9 302.3M745.9 302.3L742.9 291.7M749.7 301.7L748.0 295.5" fill="none" stroke="#f2601a" stroke-width="2" stroke-linecap="butt"/>
<path d="M821.5 297.1L799.5 301.8M799.5 301.8L796.0 291.4M803.3 301.0L801.2 294.8" fill="none" stroke="#f2601a" stroke-width="2" stroke-linecap="butt"/>
<path d="M874.8 294.7L854.4 304.2M854.4 304.2L849.0 294.7" fill="none" stroke="#f2601a" stroke-width="2" stroke-linecap="butt"/>
<path d="M928.1 292.0L908.6 303.2M908.6 303.2L902.4 294.1" fill="none" stroke="#ffb4c8" stroke-width="2" stroke-linecap="butt"/>
<path d="M981.3 288.9L961.8 300.1M961.8 300.1L955.7 291.0" fill="none" stroke="#ffb4c8" stroke-width="2" stroke-linecap="butt"/>
<path d="M15.8 371.1L-6.6 369.1M-6.6 369.1L-7.4 358.1" fill="none" stroke="#ffb4c8" stroke-width="2" stroke-linecap="butt"/>
<path d="M69.6 373.9L47.1 373.9M47.1 373.9L45.5 363.0" fill="none" stroke="#ffb4c8" stroke-width="2" stroke-linecap="butt"/>
<path d="M123.4 376.4L100.9 376.4M100.9 376.4L99.3 365.6" fill="none" stroke="#ffb4c8" stroke-width="2" stroke-linecap="butt"/>
<path d="M177.3 378.6L158.2 366.7M158.2 366.7L159.4 355.8" fill="none" stroke="#f2601a" stroke-width="2" stroke-linecap="butt"/>
<path d="M231.1 380.4L211.7 369.2M211.7 369.2L212.8 358.2M215.0 371.1L216.1 360.2" fill="none" stroke="#f2601a" stroke-width="2" stroke-linecap="butt"/>
<path d="M285.1 381.9L265.6 370.6M265.6 370.6L266.7 359.7M269.0 372.6L270.1 361.6M272.3 374.5L273.4 363.6" fill="none" stroke="#dc1418" stroke-width="2" stroke-linecap="butt"/>
<path d="M339.0 383.0L320.1 370.7M320.1 370.7L321.4 359.8M323.4 372.9L324.7 361.9M326.7 375.0L327.9 364.1" fill="none" stroke="#dc1418" stroke-width="2" stroke-linecap="butt"/>
<path d="M393.0 383.7L374.5 370.8M374.5 370.8L375.9 359.9M377.7 373.1L379.1 362.2M380.9 375.3L382.3 364.4" fill="none" stroke="#dc1418" stroke-width="2" stroke-linecap="butt"/>
<path d="M447.0 384.1L428.8 370.9M428.8 370.9L430.2 360.0M431.9 373.2L433.3 362.3M435.1 375.5L436.5 364.6M438.2 377.8L439.6 366.9" fill="none" stroke="#dc1418" stroke-width="2" stroke-linecap="butt"/>
<path d="M500.9 384.2L482.5 371.3M482.5 371.3L483.9 360.4M485.7 373.5L487.1 362.6M488.9 375.7L490.3 364.8" fill="none" stroke="#dc1418" stroke-width="2" stroke-linecap="butt"/>
<path d="M554.9 383.9L536.3 371.3M536.3 371.3L537.6 360.4M539.5 373.5L540.8 362.5M542.7 375.6L544.0 364.7" fill="none" stroke="#dc1418" stroke-width="2" stroke-linecap="butt"/>
<path d="M608.9 383.2L589.4 371.9M589.4 371.9L590.5 361.0M592.8 373.9L593.9 362.9" fill="none" stroke="#dc1418" stroke-width="2" stroke-linecap="butt"/>
<path d="M662.9 382.2L641.7 374.5M641.7 374.5L642.3 363.5M645.4 375.8L645.9 364.8" fill="none" stroke="#f2601a" stroke-width="2" stroke-linecap="butt"/>
<path d="M716.8 380.8L694.8 376.1M694.8 376.1L694.9 365.1" fill="none" stroke="#f2601a" stroke-width="2" stroke-linecap="butt"/>
<path d="M770.7 379.0L748.2 378.3M748.2 378.3L746.9 367.3" fill="none" stroke="#f2601a" stroke-width="2" stroke-linecap="butt"/>
<path d="M824.6 377.0L802.3 380.5M802.3 380.5L799.3 369.9M806.2 379.9L803.1 369.3" fill="none" stroke="#f2601a" stroke-width="2" stroke-linecap="butt"/>
<path d="M878.4 374.5L856.5 379.6M856.5 379.6L852.8 369.2M860.3 378.7L858.1 372.6" fill="none" stroke="#f2601a" stroke-width="2" stroke-linecap="butt"/>
<path d="M932.2 371.7L909.8 374.1M909.8 374.1L907.2 363.4" fill="none" stroke="#ffb4c8" stroke-width="2" stroke-linecap="butt"/>
<path d="M985.9 368.6L963.4 369.4M963.4 369.4L961.5 358.5" fill="none" stroke="#ffb4c8" stroke-width="2" stroke-linecap="butt"/>
<circle cx="11.3" cy="450.8" r="2.9" fill="none" stroke="#ffb4c8" stroke-width="1.6"/>
<path d="M65.5 453.7L53.3 472.6M53.3 472.6L47.7 469.2" fill="none" stroke="#ffb4c8" stroke-width="2" stroke-linecap="butt"/>
<path d="M119.9 456.3L98.7 464.0M98.7 464.0L94.0 454.1" fill="none" stroke="#ffb4c8" stroke-width="2" stroke-linecap="butt"/>
<path d="M174.2 458.5L160.1 441.0M160.1 441.0L164.3 430.8" fill="none" stroke="#ffb4c8" stroke-width="2" stroke-linecap="butt"/>
<path d="M228.6 460.3L212.7 444.4M212.7 444.4L215.7 433.9" fill="none" stroke="#f2601a" stroke-width="2" stroke-linecap="butt"/>
<path d="M283.0 461.8L267.1 445.9M267.1 445.9L270.1 435.3" fill="none" stroke="#f2601a" stroke-width="2" stroke-linecap="butt"/>
<path d="M337.5 463.0L322.4 446.2M322.4 446.2L326.1 435.9M325.0 449.1L328.7 438.7" fill="none" stroke="#dc1418" stroke-width="2" stroke-linecap="butt"/>
<path d="M392.0 463.7L377.8 446.2M377.8 446.2L382.0 436.1M380.3 449.3L384.5 439.1M382.7 452.3L386.9 442.1" fill="none" stroke="#dc1418" stroke-width="2" stroke-linecap="butt"/>
<path d="M446.5 464.1L432.3 446.6M432.3 446.6L436.5 436.5M434.8 449.7L439.0 439.5M437.2 452.7L441.4 442.5M439.7 455.7L443.9 445.6" fill="none" stroke="#dc1418" stroke-width="2" stroke-linecap="butt"/>
<path d="M500.9 464.2L486.5 446.9M486.5 446.9L490.5 436.7M489.0 449.9L493.0 439.7M491.5 452.9L495.5 442.7" fill="none" stroke="#dc1418" stroke-width="2" stroke-linecap="butt"/>
<path d="M555.4 463.9L540.4 447.1M540.4 447.1L544.0 436.7M543.0 450.0L546.6 439.6" fill="none" stroke="#dc1418" stroke-width="2" stroke-linecap="butt"/>
<path d="M609.9 463.2L594.0 447.3M594.0 447.3L597.0 436.7M596.8 450.0L598.5 443.8" fill="none" stroke="#f2601a" stroke-width="2" stroke-linecap="butt"/>
<path d="M664.4 462.1L647.7 447.1M647.7 447.1L650.0 436.3" fill="none" stroke="#f2601a" stroke-width="2" stroke-linecap="butt"/>
<path d="M718.8 460.7L700.6 447.5M700.6 447.5L702.0 436.6" fill="none" stroke="#f2601a" stroke-width="2" stroke-linecap="butt"/>
<path d="M773.2 459.0L752.2 450.9M752.2 450.9L752.8 439.9" fill="none" stroke="#ffb4c8" stroke-width="2" stroke-linecap="butt"/>
<path d="M827.6 456.8L805.2 458.4M805.2 458.4L802.9 447.6" fill="none" stroke="#ffb4c8" stroke-width="2" stroke-linecap="butt"/>
<path d="M882.0 454.3L859.5 455.1M859.5 455.1L857.5 444.3" fill="none" stroke="#ffb4c8" stroke-width="2" stroke-linecap="butt"/>
<path d="M936.2 451.5L915.7 442.4M915.7 442.4L916.4 431.4" fill="none" stroke="#ffb4c8" stroke-width="2" stroke-linecap="butt"/>
<path d="M990.5 448.3L971.0 437.1M971.0 437.1L972.1 426.1" fill="none" stroke="#ffb4c8" stroke-width="2" stroke-linecap="butt"/>
<path d="M6.7 530.5L25.6 518.3M25.6 518.3L33.5 526.0" fill="none" stroke="#ffb4c8" stroke-width="2" stroke-linecap="butt"/>
<path d="M61.5 533.5L82.6 525.8M82.6 525.8L88.4 535.2" fill="none" stroke="#ffb4c8" stroke-width="2" stroke-linecap="butt"/>
<path d="M116.3 536.1L120.6 514.0M120.6 514.0L127.1 513.5" fill="none" stroke="#ffb4c8" stroke-width="2" stroke-linecap="butt"/>
<path d="M171.2 538.4L171.2 515.9M171.2 515.9L181.7 512.7M171.2 519.8L177.4 517.9" fill="none" stroke="#f2601a" stroke-width="2" stroke-linecap="butt"/>
<path d="M226.1 540.3L224.5 517.8M224.5 517.8L234.7 513.7M224.8 521.7L230.8 519.3" fill="none" stroke="#f2601a" stroke-width="2" stroke-linecap="butt"/>
<path d="M281.0 541.8L277.1 519.6M277.1 519.6L286.7 514.3M277.8 523.5L283.5 520.3" fill="none" stroke="#f2601a" stroke-width="2" stroke-linecap="butt"/>
<path d="M336.0 542.9L328.3 521.8M328.3 521.8L336.5 514.5M329.6 525.5L337.8 518.1" fill="none" stroke="#f2601a" stroke-width="2" stroke-linecap="butt"/>
<path d="M391.0 543.7L384.0 522.3M384.0 522.3L392.6 515.4M385.2 526.0L393.8 519.1" fill="none" stroke="#f2601a" stroke-width="2" stroke-linecap="butt"/>
<path d="M446.0 544.1L436.4 523.7M436.4 523.7L443.7 515.5M438.1 527.3L445.3 519.0" fill="none" stroke="#f2601a" stroke-width="2" stroke-linecap="butt"/>
<path d="M501.0 544.2L491.4 523.8M491.4 523.8L498.7 515.5" fill="none" stroke="#f2601a" stroke-width="2" stroke-linecap="butt"/>
<path d="M556.0 543.8L546.8 523.3M546.8 523.3L554.3 515.2" fill="none" stroke="#f2601a" stroke-width="2" stroke-linecap="butt"/>
<path d="M610.9 543.2L603.2 522.0M603.2 522.0L611.5 514.7" fill="none" stroke="#f2601a" stroke-width="2" stroke-linecap="butt"/>
<path d="M665.9 542.1L660.5 520.3M660.5 520.3L669.6 514.2" fill="none" stroke="#f2601a" stroke-width="2" stroke-linecap="butt"/>
<path d="M720.9 540.7L715.8 518.7M715.8 518.7L725.1 512.8" fill="none" stroke="#f2601a" stroke-width="2" stroke-linecap="butt"/>
<path d="M775.8 538.9L770.7 516.9M770.7 516.9L780.0 511.0" fill="none" stroke="#f2601a" stroke-width="2" stroke-linecap="butt"/>
<path d="M830.7 536.7L824.8 515.0M824.8 515.0L833.9 508.7" fill="none" stroke="#ffb4c8" stroke-width="2" stroke-linecap="butt"/>
<path d="M885.5 534.2L873.6 515.1M873.6 515.1L879.3 505.7" fill="none" stroke="#ffb4c8" stroke-width="2" stroke-linecap="butt"/>
<path d="M940.3 531.3L924.4 515.4M924.4 515.4L927.4 504.8" fill="none" stroke="#ffb4c8" stroke-width="2" stroke-linecap="butt"/>
<path d="M995.0 528.0L977.8 513.6M977.8 513.6L979.7 502.7" fill="none" stroke="#ffb4c8" stroke-width="2" stroke-linecap="butt"/>
<path d="M2.2 610.3L21.1 598.0M21.1 598.0L28.9 605.7" fill="none" stroke="#f2601a" stroke-width="2" stroke-linecap="butt"/>
<path d="M57.4 613.3L74.2 598.3M74.2 598.3L83.2 604.5M71.3 600.9L76.6 604.6" fill="none" stroke="#f2601a" stroke-width="2" stroke-linecap="butt"/>
<path d="M112.8 616.0L126.9 598.5M126.9 598.5L136.9 603.1M124.5 601.5L134.4 606.2" fill="none" stroke="#f2601a" stroke-width="2" stroke-linecap="butt"/>
<path d="M168.1 618.3L181.0 599.8M181.0 599.8L191.3 603.7M178.8 603.0L189.1 606.9" fill="none" stroke="#f2601a" stroke-width="2" stroke-linecap="butt"/>
<path d="M223.5 620.2L238.6 603.5M238.6 603.5L248.3 608.7M236.0 606.4L241.7 609.4" fill="none" stroke="#f2601a" stroke-width="2" stroke-linecap="butt"/>
<path d="M279.0 621.7L295.4 606.4M295.4 606.4L304.6 612.5" fill="none" stroke="#f2601a" stroke-width="2" stroke-linecap="butt"/>
<path d="M334.5 622.9L348.6 605.4M348.6 605.4L358.6 610.1" fill="none" stroke="#f2601a" stroke-width="2" stroke-linecap="butt"/>
<path d="M389.9 623.7L403.2 605.5M403.2 605.5L413.4 609.6" fill="none" stroke="#f2601a" stroke-width="2" stroke-linecap="butt"/>
<path d="M445.5 624.1L453.5 603.1M453.5 603.1L464.5 604.2M452.1 606.8L463.1 607.9" fill="none" stroke="#f2601a" stroke-width="2" stroke-linecap="butt"/>
<path d="M501.0 624.2L506.8 602.4M506.8 602.4L517.8 602.3M505.8 606.2L516.8 606.1" fill="none" stroke="#f2601a" stroke-width="2" stroke-linecap="butt"/>
<path d="M556.5 623.8L561.5 601.9M561.5 601.9L572.5 601.4M560.7 605.7L571.6 605.2" fill="none" stroke="#f2601a" stroke-width="2" stroke-linecap="butt"/>
<path d="M612.0 623.1L616.3 601.1M616.3 601.1L627.2 600.1M615.5 604.9L622.0 604.3" fill="none" stroke="#f2601a" stroke-width="2" stroke-linecap="butt"/>
<path d="M667.4 622.1L667.4 599.6M667.4 599.6L678.0 596.3M667.4 603.5L678.0 600.2" fill="none" stroke="#f2601a" stroke-width="2" stroke-linecap="butt"/>
<path d="M722.9 620.6L723.3 598.1M723.3 598.1L733.9 595.1M723.2 602.0L729.5 600.2" fill="none" stroke="#f2601a" stroke-width="2" stroke-linecap="butt"/>
<path d="M778.3 618.8L777.2 596.3M777.2 596.3L787.5 592.4" fill="none" stroke="#f2601a" stroke-width="2" stroke-linecap="butt"/>
<path d="M833.7 616.6L828.3 594.7M828.3 594.7L837.4 588.6" fill="none" stroke="#ffb4c8" stroke-width="2" stroke-linecap="butt"/>
<path d="M889.1 614.0L877.5 594.7M877.5 594.7L883.4 585.4" fill="none" stroke="#ffb4c8" stroke-width="2" stroke-linecap="butt"/>
<circle cx="944.4" cy="611.0" r="2.9" fill="none" stroke="#ffb4c8" stroke-width="1.6"/>
<path d="M941.7 609.9L923.8 601.9" fill="none" stroke="#ffb4c8" stroke-width="2" stroke-linecap="butt"/>
<circle cx="999.6" cy="607.7" r="2.9" fill="none" stroke="#ffb4c8" stroke-width="1.6"/>
<path d="M996.9 606.7L978.5 600.0" fill="none" stroke="#ffb4c8" stroke-width="2" stroke-linecap="butt"/>
<path d="M-2.4 690.0L14.3 675.0M14.3 675.0L23.4 681.2" fill="none" stroke="#ffb4c8" stroke-width="2" stroke-linecap="butt"/>
<path d="M53.4 693.1L65.3 674.0M65.3 674.0L75.8 677.3" fill="none" stroke="#f2601a" stroke-width="2" stroke-linecap="butt"/>
<path d="M109.2 695.8L118.7 675.4M118.7 675.4L129.6 677.3" fill="none" stroke="#ffb4c8" stroke-width="2" stroke-linecap="butt"/>
<path d="M165.1 698.2L184.4 686.6M184.4 686.6L191.9 694.6" fill="none" stroke="#ffb4c8" stroke-width="2" stroke-linecap="butt"/>
<path d="M221.0 700.1L243.4 697.8M243.4 697.8L246.5 708.3" fill="none" stroke="#f2601a" stroke-width="2" stroke-linecap="butt"/>
<path d="M277.0 701.7L299.1 697.8M299.1 697.8L303.0 708.1" fill="none" stroke="#f2601a" stroke-width="2" stroke-linecap="butt"/>
<path d="M332.9 702.9L353.3 693.4M353.3 693.4L359.9 702.2" fill="none" stroke="#f2601a" stroke-width="2" stroke-linecap="butt"/>
<path d="M388.9 703.7L408.4 692.4M408.4 692.4L415.8 700.6" fill="none" stroke="#f2601a" stroke-width="2" stroke-linecap="butt"/>
<path d="M445.0 704.1L461.1 688.5M461.1 688.5L470.4 694.4M458.3 691.2L467.6 697.1" fill="none" stroke="#f2601a" stroke-width="2" stroke-linecap="butt"/>
<path d="M501.0 704.2L511.5 684.3M511.5 684.3L522.2 686.8M509.7 687.8L520.4 690.3" fill="none" stroke="#dc1418" stroke-width="2" stroke-linecap="butt"/>
<path d="M557.0 703.8L563.6 682.3M563.6 682.3L574.6 682.6M562.4 686.1L573.4 686.3" fill="none" stroke="#f2601a" stroke-width="2" stroke-linecap="butt"/>
<path d="M613.0 703.1L617.7 681.1M617.7 681.1L628.6 680.3M616.9 684.9L623.3 684.5" fill="none" stroke="#f2601a" stroke-width="2" stroke-linecap="butt"/>
<path d="M669.0 702.0L668.2 679.5M668.2 679.5L678.6 675.9" fill="none" stroke="#f2601a" stroke-width="2" stroke-linecap="butt"/>
<path d="M724.9 700.5L720.3 678.5M720.3 678.5L729.7 672.8" fill="none" stroke="#ffb4c8" stroke-width="2" stroke-linecap="butt"/>
<path d="M780.9 698.7L773.6 677.4M773.6 677.4L778.5 673.2" fill="none" stroke="#ffb4c8" stroke-width="2" stroke-linecap="butt"/>
<circle cx="836.8" cy="696.4" r="2.9" fill="none" stroke="#ffb4c8" stroke-width="1.6"/>
<circle cx="892.6" cy="693.8" r="2.9" fill="none" stroke="#ffb4c8" stroke-width="1.6"/>
<circle cx="948.4" cy="690.8" r="2.9" fill="none" stroke="#ffb4c8" stroke-width="1.6"/>
<circle cx="1004.2" cy="687.4" r="2.9" fill="none" stroke="#ffb4c8" stroke-width="1.6"/>
<path d="M-6.9 769.7L12.6 758.5" fill="none" stroke="#ffb4c8" stroke-width="2" stroke-linecap="butt"/>
<circle cx="49.3" cy="772.9" r="2.9" fill="none" stroke="#ffb4c8" stroke-width="1.6"/>
<path d="M50.7 770.3L59.6 752.8" fill="none" stroke="#ffb4c8" stroke-width="2" stroke-linecap="butt"/>
<circle cx="105.7" cy="775.7" r="2.9" fill="none" stroke="#ffb4c8" stroke-width="1.6"/>
<path d="M106.4 772.8L111.1 753.8" fill="none" stroke="#ffb4c8" stroke-width="2" stroke-linecap="butt"/>
<circle cx="162.1" cy="778.0" r="2.9" fill="none" stroke="#ffb4c8" stroke-width="1.6"/>
<circle cx="218.5" cy="780.0" r="2.9" fill="none" stroke="#ffb4c8" stroke-width="1.6"/>
<path d="M221.3 779.6L240.7 776.5" fill="none" stroke="#ffb4c8" stroke-width="2" stroke-linecap="butt"/>
<path d="M274.9 781.6L295.2 771.8M295.2 771.8L299.2 776.9" fill="none" stroke="#ffb4c8" stroke-width="2" stroke-linecap="butt"/>
<path d="M331.4 782.9L348.7 768.4M348.7 768.4L357.5 775.0" fill="none" stroke="#ffb4c8" stroke-width="2" stroke-linecap="butt"/>
<path d="M387.9 783.7L402.4 766.4M402.4 766.4L412.3 771.3" fill="none" stroke="#ffb4c8" stroke-width="2" stroke-linecap="butt"/>
<path d="M444.4 784.1L454.3 763.9M454.3 763.9L465.1 766.0" fill="none" stroke="#f2601a" stroke-width="2" stroke-linecap="butt"/>
<path d="M501.0 784.2L505.7 762.2M505.7 762.2L516.6 761.4" fill="none" stroke="#ffb4c8" stroke-width="2" stroke-linecap="butt"/>
<path d="M557.5 783.8L559.8 761.5M559.8 761.5L570.7 759.4" fill="none" stroke="#ffb4c8" stroke-width="2" stroke-linecap="butt"/>
<path d="M614.0 783.1L613.2 760.6M613.2 760.6L623.6 757.0" fill="none" stroke="#ffb4c8" stroke-width="2" stroke-linecap="butt"/>
<path d="M670.5 782.0L648.8 776.2M648.8 776.2L648.9 769.7" fill="none" stroke="#ffb4c8" stroke-width="2" stroke-linecap="butt"/>
<path d="M727.0 780.5L706.1 788.9M706.1 788.9L703.1 783.1" fill="none" stroke="#ffb4c8" stroke-width="2" stroke-linecap="butt"/>
<path d="M783.4 778.6L778.4 800.5M778.4 800.5L772.0 799.3" fill="none" stroke="#ffb4c8" stroke-width="2" stroke-linecap="butt"/>
<circle cx="839.8" cy="776.3" r="2.9" fill="none" stroke="#ffb4c8" stroke-width="1.6"/>
<path d="M841.6 778.6L853.4 794.3" fill="none" stroke="#ffb4c8" stroke-width="2" stroke-linecap="butt"/>
<circle cx="896.2" cy="773.6" r="2.9" fill="none" stroke="#ffb4c8" stroke-width="1.6"/>
<path d="M896.7 776.5L900.5 795.7" fill="none" stroke="#ffb4c8" stroke-width="2" stroke-linecap="butt"/>
<circle cx="952.5" cy="770.6" r="2.9" fill="none" stroke="#ffb4c8" stroke-width="1.6"/>
<path d="M951.9 773.4L947.8 792.6" fill="none" stroke="#ffb4c8" stroke-width="2" stroke-linecap="butt"/>
<circle cx="1008.7" cy="767.1" r="2.9" fill="none" stroke="#ffb4c8" stroke-width="1.6"/>
<path d="M1007.7 769.9L1001.0 788.3" fill="none" stroke="#ffb4c8" stroke-width="2" stroke-linecap="butt"/>
<circle cx="-11.5" cy="849.5" r="2.9" fill="none" stroke="#ffb4c8" stroke-width="1.6"/>
<path d="M45.3 852.7L30.2 836.0" fill="none" stroke="#ffb4c8" stroke-width="2" stroke-linecap="butt"/>
<circle cx="102.1" cy="855.5" r="2.9" fill="none" stroke="#ffb4c8" stroke-width="1.6"/>
<circle cx="159.0" cy="857.9" r="2.9" fill="none" stroke="#ffb4c8" stroke-width="1.6"/>
<circle cx="215.9" cy="859.9" r="2.9" fill="none" stroke="#ffb4c8" stroke-width="1.6"/>
<circle cx="272.9" cy="861.6" r="2.9" fill="none" stroke="#ffb4c8" stroke-width="1.6"/>
<circle cx="329.9" cy="862.8" r="2.9" fill="none" stroke="#ffb4c8" stroke-width="1.6"/>
<path d="M386.9 863.7L380.3 842.2M380.3 842.2L385.5 838.2" fill="none" stroke="#ffb4c8" stroke-width="2" stroke-linecap="butt"/>
<path d="M443.9 864.1L437.7 842.5M437.7 842.5L443.0 838.7" fill="none" stroke="#ffb4c8" stroke-width="2" stroke-linecap="butt"/>
<path d="M501.0 864.2L489.1 845.1M489.1 845.1L492.4 839.5" fill="none" stroke="#ffb4c8" stroke-width="2" stroke-linecap="butt"/>
<path d="M558.0 863.8L545.8 845.0M545.8 845.0L549.0 839.3" fill="none" stroke="#ffb4c8" stroke-width="2" stroke-linecap="butt"/>
<path d="M615.0 863.1L600.3 846.1M600.3 846.1L602.5 840.0" fill="none" stroke="#ffb4c8" stroke-width="2" stroke-linecap="butt"/>
<path d="M672.0 862.0L651.2 870.4M651.2 870.4L648.2 864.6" fill="none" stroke="#ffb4c8" stroke-width="2" stroke-linecap="butt"/>
<path d="M729.0 860.4L713.7 876.9M713.7 876.9L708.8 872.6" fill="none" stroke="#ffb4c8" stroke-width="2" stroke-linecap="butt"/>
<path d="M786.0 858.5L778.3 879.6M778.3 879.6L772.1 877.6" fill="none" stroke="#ffb4c8" stroke-width="2" stroke-linecap="butt"/>
<path d="M842.9 856.2L844.8 878.6M844.8 878.6L838.4 879.6" fill="none" stroke="#ffb4c8" stroke-width="2" stroke-linecap="butt"/>
<path d="M899.7 853.5L889.5 873.5M889.5 873.5L883.6 870.8" fill="none" stroke="#ffb4c8" stroke-width="2" stroke-linecap="butt"/>
<path d="M956.5 850.3L947.4 870.9M947.4 870.9L941.4 868.5" fill="none" stroke="#ffb4c8" stroke-width="2" stroke-linecap="butt"/>
<circle cx="1013.3" cy="846.9" r="2.9" fill="none" stroke="#ffb4c8" stroke-width="1.6"/>
<path d="M1012.3 849.6L1005.6 868.0" fill="none" stroke="#ffb4c8" stroke-width="2" stroke-linecap="butt"/>
<text x="239" y="143.5" transform="rotate(-12 239 143.5)" font-family="Liberation Sans, sans-serif" font-size="12.5" fill="#1c1c1c" text-anchor="middle" dominant-baseline="central" >65</text>
<text x="167.5" y="386" transform="rotate(-52 167.5 386)" font-family="Liberation Sans, sans-serif" font-size="12.5" fill="#1c1c1c" text-anchor="middle" dominant-baseline="central" >60</text>
<text x="383" y="410.5" transform="rotate(0 383 410.5)" font-family="Liberation Sans, sans-serif" font-size="12.5" fill="#1c1c1c" text-anchor="middle" dominant-baseline="central" >55</text>
<text x="655" y="299" transform="rotate(14 655 299)" font-family="Liberation Sans, sans-serif" font-size="12.5" fill="#1c1c1c" text-anchor="middle" dominant-baseline="central" >70</text>
<text x="690" y="178" transform="rotate(-76 690 178)" font-family="Liberation Sans, sans-serif" font-size="12.5" fill="#1c1c1c" text-anchor="middle" dominant-baseline="central" >75</text>
<text x="791" y="147" transform="rotate(48 791 147)" font-family="Liberation Sans, sans-serif" font-size="12.5" fill="#1c1c1c" text-anchor="middle" dominant-baseline="central" >85</text>
<text x="894" y="222.5" transform="rotate(55 894 222.5)" font-family="Liberation Sans, sans-serif" font-size="12.5" fill="#1c1c1c" text-anchor="middle" dominant-baseline="central" >90</text>
<text x="738" y="675" transform="rotate(-24 738 675)" font-family="Liberation Sans, sans-serif" font-size="12.5" fill="#1c1c1c" text-anchor="middle" dominant-baseline="central" >90</text>
<text x="680" y="791" transform="rotate(8 680 791)" font-family="Liberation Sans, sans-serif" font-size="12.5" fill="#1c1c1c" text-anchor="middle" dominant-baseline="central" >95</text>
<text x="306" y="789" transform="rotate(36 306 789)" font-family="Liberation Sans, sans-serif" font-size="12.5" fill="#1c1c1c" text-anchor="middle" dominant-baseline="central" >90</text>
<text x="279" y="836" transform="rotate(48 279 836)" font-family="Liberation Sans, sans-serif" font-size="12.5" fill="#1c1c1c" text-anchor="middle" dominant-baseline="central" >85</text>
<text x="90" y="890" transform="rotate(14 90 890)" font-family="Liberation Sans, sans-serif" font-size="12.5" fill="#1c1c1c" text-anchor="middle" dominant-baseline="central" >80</text>
<text x="12.5" y="142" transform="rotate(50 12.5 142)" font-family="Liberation Sans, sans-serif" font-size="15" fill="#000" text-anchor="middle" dominant-baseline="central" >700</text>
<text x="104" y="14.5" transform="rotate(24 104 14.5)" font-family="Liberation Sans, sans-serif" font-size="15" fill="#000" text-anchor="middle" dominant-baseline="central" >690</text>
<text x="194" y="475" transform="rotate(-15 194 475)" font-family="Liberation Sans, sans-serif" font-size="12" fill="#8a8a8a" text-anchor="middle" dominant-baseline="central" >Vas</text>
<text x="251.5" y="526" transform="rotate(-76 251.5 526)" font-family="Liberation Sans, sans-serif" font-size="12" fill="#8a8a8a" text-anchor="middle" dominant-baseline="central" >Zala</text>
<text x="331" y="482" transform="rotate(-21 331 482)" font-family="Liberation Sans, sans-serif" font-size="12" fill="#8a8a8a" text-anchor="middle" dominant-baseline="central" >Somogy</text>
<text x="362.5" y="462" transform="rotate(-76 362.5 462)" font-family="Liberation Sans, sans-serif" font-size="12" fill="#8a8a8a" text-anchor="middle" dominant-baseline="central" >Fejér</text>
<text x="352" y="515" transform="rotate(-50 352 515)" font-family="Liberation Sans, sans-serif" font-size="12" fill="#8a8a8a" text-anchor="middle" dominant-baseline="central" >Tolna</text>
<text x="536" y="466" transform="rotate(0 536 466)" font-family="Liberation Sans, sans-serif" font-size="12" fill="#8a8a8a" text-anchor="middle" dominant-baseline="central" >Pest</text>
<text x="518" y="337" transform="rotate(-50 518 337)" font-family="Liberation Sans, sans-serif" font-size="12" fill="#8a8a8a" text-anchor="middle" dominant-baseline="central" >Heves</text>
<text x="650" y="441" transform="rotate(-42 650 441)" font-family="Liberation Sans, sans-serif" font-size="12" fill="#8a8a8a" text-anchor="middle" dominant-baseline="central" >Békés</text>
<text x="432" y="578" transform="rotate(-86 432 578)" font-family="Liberation Sans, sans-serif" font-size="11" fill="#8a8a8a" text-anchor="middle" dominant-baseline="central" >Baranya</text>
</svg>
</div>
<div id="title">
<div style="top:4px;color:#ffffff">ECMWF-E RHU (%) [925 hPa] Sunday 26-10-2025 18:00 (+0h)</div>
<div style="top:25px;color:#d4d6dc">ECMWF-E Geopotential (m) [925 hPa] Sunday 26-10-2025 18:00 (+0h)</div>
<div style="top:46px;color:#c8ccdc">ECMWF-E Wind (m/s) [925 hPa] Sunday 26-10-2025 18:00 (+0h)</div>
</div>
<div id="legend">
<div class="lab" style="top:9px">ECMWF-E</div>
<div class="lab" style="top:25px">RHU</div>
<div class="lab" style="top:41.6px">%</div>
<div class="bx" style="left:71px;width:20px;background:#fff"></div>
<div class="bx" style="left:90px;width:20px;background:#fff"></div>
<div class="bx" style="left:109px;width:20px;background:#fff"></div>
<div class="bx" style="left:128px;width:20px;background:#fff"></div>
<div class="bx" style="left:147px;width:20px;background:#fff"></div>
<div class="bx" style="left:166px;width:20px;background:#f5deb3"></div>
<div class="bx" style="left:185px;width:20px;background:#fa8200"></div>
<div class="bx" style="left:204px;width:20px;background:#fafa00"></div>
<div class="bx" style="left:223px;width:20px;background:#1bcbd1"></div>
<div class="bx" style="left:242px;width:20px;background:#1baaae"></div>
<div class="bx" style="left:261px;width:20px;background:#0069e0"></div>
<div class="bx" style="left:280px;width:20px;background:#0050aa"></div>
<div class="bx" style="left:299px;width:20px;background:#003070"></div>
<div class="bx" style="left:318px;width:20px;background:#aaaaaa"></div>
<div class="bx" style="left:337px;width:20px;background:#5a5a5a"></div>
<div class="tk" style="left:90px"></div>
<div class="n" style="left:90px">10</div>
<div class="tk" style="left:109px"></div>
<div class="n" style="left:109px">20</div>
<div class="tk" style="left:128px"></div>
<div class="n" style="left:128px">30</div>
<div class="tk" style="left:147px"></div>
<div class="n" style="left:147px">40</div>
<div class="tk" style="left:166px"></div>
<div class="n" style="left:166px">50</div>
<div class="tk" style="left:185px"></div>
<div class="n" style="left:185px">55</div>
<div class="tk" style="left:204px"></div>
<div class="n" style="left:204px">60</div>
<div class="tk" style="left:223px"></div>
<div class="n" style="left:223px">65</div>
<div class="tk" style="left:242px"></div>
<div class="n" style="left:242px">70</div>
<div class="tk" style="left:261px"></div>
<div class="n" style="left:261px">75</div>
<div class="tk" style="left:280px"></div>
<div class="n" style="left:280px">80</div>
<div class="tk" style="left:299px"></div>
<div class="n" style="left:299px">85</div>
<div class="tk" style="left:318px"></div>
<div class="n" style="left:318px">90</div>
<div class="tk" style="left:337px"></div>
<div class="n" style="left:337px">95</div>
<div class="tk" style="left:356px"></div>
<div class="n" style="left:356.5px">100</div>
</div>
<div id="logo"><svg width="44" height="44" viewBox="0 0 44 44"><defs><linearGradient id="lg" x1="0" y1="1" x2="1" y2="0"><stop offset="0" stop-color="#2f83c6"/><stop offset="0.5" stop-color="#2fa6a2"/><stop offset="1" stop-color="#3fba6e"/></linearGradient></defs><path d="M14.34 26.17 L13.93 25.26 L13.61 24.32 L13.39 23.36 L13.28 22.38 L13.27 21.40 L13.36 20.43 L13.55 19.48 L13.84 18.55 L14.19 17.66 L14.62 16.79 L15.14 15.98 L15.74 15.22 L16.42 14.53 L17.16 13.92 L17.97 13.38 L18.83 12.94 L19.73 12.58 L20.67 12.32 L21.63 12.16 L22.60 12.10 L23.57 12.14 L24.54 12.28 L25.49 12.52 L26.40 12.86 L27.28 13.29 L28.11 13.81 L28.89 14.42 L29.59 15.11 L30.22 15.86 L30.77 16.68 L31.23 17.56 L31.60 18.48 L31.87 19.43 L32.03 20.41 L32.10 21.40 L32.45 22.43 L32.67 23.54 L32.78 24.71 L32.74 25.91 L32.56 27.15 L32.23 28.39 L31.74 29.63 L31.15 30.90 L30.44 32.19 L29.55 33.44 L28.48 34.61 L27.24 35.68 L25.84 36.64 L24.29 37.45 L22.60 38.10 L20.79 38.65 L18.86 39.00 L16.84 39.13 L14.76 39.02 L12.63 38.66 M13.34 26.17 L12.91 25.17 L12.60 24.13 L12.39 23.06 L12.30 21.99 L12.31 20.91 L12.44 19.84 L12.68 18.79 L13.03 17.77 L13.44 16.78 L13.95 15.84 L14.57 14.95 L15.27 14.13 L16.06 13.39 L16.92 12.73 L17.85 12.17 L18.83 11.70 L19.86 11.34 L20.92 11.09 L22.01 10.95 L23.10 10.93 L24.20 11.03 L25.27 11.24 L26.33 11.57 L27.34 12.00 L28.30 12.54 L29.20 13.17 L30.04 13.90 L30.79 14.71 L31.45 15.60 L32.02 16.55 L32.49 17.56 L32.85 18.61 L33.09 19.69 L33.23 20.80 L33.41 21.92 L33.65 23.10 L33.77 24.34 L33.74 25.62 L33.57 26.93 L33.24 28.24 L32.75 29.55 L32.11 30.82 L31.39 32.15 L30.49 33.44 L29.42 34.65 L28.18 35.76 L26.79 36.75 L25.24 37.61 L23.56 38.30 L21.76 38.85 L19.85 39.26 L17.85 39.45 L15.77 39.42 L13.66 39.14 L11.53 38.61 M12.30 26.09 L11.87 24.99 L11.57 23.85 L11.38 22.68 L11.32 21.50 L11.37 20.32 L11.55 19.15 L11.85 18.01 L12.25 16.90 L12.75 15.82 L13.36 14.81 L14.07 13.85 L14.88 12.98 L15.79 12.19 L16.77 11.50 L17.82 10.92 L18.94 10.45 L20.09 10.09 L21.29 9.86 L22.50 9.75 L23.72 9.79 L24.93 9.97 L26.11 10.26 L27.26 10.68 L28.36 11.22 L29.40 11.87 L30.37 12.62 L31.25 13.48 L32.04 14.42 L32.72 15.44 L33.30 16.52 L33.76 17.67 L34.10 18.85 L34.31 20.07 L34.40 21.30 L34.65 22.56 L34.79 23.88 L34.78 25.24 L34.62 26.63 L34.30 28.02 L33.81 29.40 L33.16 30.75 L32.39 32.08 L31.49 33.41 L30.41 34.67 L29.17 35.82 L27.77 36.86 L26.23 37.76 L24.55 38.50 L22.75 39.06 L20.86 39.52 L18.86 39.77 L16.80 39.81 L14.69 39.60 L12.56 39.15 L10.44 38.45 M11.24 25.93 L10.82 24.72 L10.54 23.47 L10.37 22.20 L10.34 20.92 L10.45 19.64 L10.68 18.37 L11.05 17.14 L11.52 15.94 L12.11 14.78 L12.83 13.70 L13.66 12.69 L14.59 11.77 L15.61 10.94 L16.72 10.23 L17.91 9.64 L19.15 9.17 L20.44 8.83 L21.76 8.63 L23.10 8.58 L24.44 8.70 L25.76 8.95 L27.05 9.34 L28.29 9.86 L29.47 10.52 L30.57 11.29 L31.59 12.17 L32.51 13.15 L33.33 14.23 L34.03 15.39 L34.60 16.61 L35.04 17.89 L35.35 19.21 L35.52 20.55 L35.65 21.91 L35.82 23.32 L35.84 24.76 L35.70 26.23 L35.39 27.71 L34.92 29.17 L34.27 30.60 L33.46 31.98 L32.54 33.36 L31.46 34.66 L30.21 35.87 L28.81 36.96 L27.26 37.91 L25.57 38.70 L23.77 39.31 L21.88 39.77 L19.89 40.09 L17.83 40.19 L15.72 40.06 L13.58 39.68 L11.46 39.06 L9.36 38.19 M10.16 25.68 L9.76 24.36 L9.50 23.01 L9.37 21.63 L9.39 20.24 L9.55 18.86 L9.86 17.50 L10.29 16.18 L10.86 14.89 L11.55 13.67 L12.38 12.52 L13.33 11.46 L14.38 10.50 L15.54 9.65 L16.78 8.92 L18.10 8.33 L19.48 7.88 L20.90 7.57 L22.36 7.41 L23.82 7.45 L25.27 7.65 L26.70 7.99 L28.08 8.49 L29.40 9.13 L30.65 9.90 L31.81 10.80 L32.88 11.82 L33.83 12.94 L34.66 14.16 L35.35 15.45 L35.91 16.82 L36.32 18.23 L36.59 19.68 L36.70 21.15 L36.87 22.65 L36.92 24.18 L36.81 25.74 L36.52 27.31 L36.06 28.86 L35.42 30.38 L34.62 31.85 L33.66 33.26 L32.57 34.63 L31.31 35.89 L29.89 37.04 L28.33 38.04 L26.64 38.89 L24.83 39.56 L22.93 40.04 L20.94 40.40 L18.87 40.57 L16.76 40.50 L14.62 40.20 L12.48 39.66 L10.37 38.87 L8.31 37.83 M9.06 25.35 L8.69 23.91 L8.46 22.45 L8.38 20.97 L8.45 19.47 L8.68 17.99 L9.07 16.54 L9.59 15.12 L10.26 13.76 L11.07 12.47 L12.02 11.27 L13.09 10.17 L14.28 9.18 L15.57 8.32 L16.95 7.59 L18.41 7.01 L19.92 6.58 L21.48 6.31 L23.06 6.23 L24.65 6.36 L26.21 6.65 L27.73 7.10 L29.20 7.71 L30.60 8.47 L31.91 9.38 L33.12 10.41 L34.21 11.57 L35.18 12.83 L36.01 14.19 L36.70 15.63 L37.23 17.14 L37.60 18.69 L37.80 20.27 L37.91 21.87 L38.01 23.50 L37.93 25.15 L37.68 26.81 L37.24 28.46 L36.62 30.07 L35.82 31.64 L34.85 33.12 L33.73 34.55 L32.46 35.89 L31.03 37.10 L29.46 38.16 L27.75 39.07 L25.93 39.80 L24.01 40.34 L22.01 40.71 L19.94 40.94 L17.82 40.94 L15.67 40.71 L13.51 40.24 L11.38 39.53 L9.30 38.58 L7.30 37.38 M7.96 24.91 L7.63 23.37 L7.43 21.80 L7.41 20.20 L7.55 18.61 L7.86 17.03 L8.33 15.49 L8.95 13.99 L9.74 12.56 L10.67 11.21 L11.75 9.96 L12.95 8.83 L14.28 7.82 L15.71 6.95 L17.23 6.23 L18.83 5.68 L20.48 5.29 L22.17 5.08 L23.88 5.10 L25.58 5.32 L27.25 5.71 L28.86 6.28 L30.41 7.02 L31.87 7.91 L33.23 8.95 L34.48 10.13 L35.59 11.43 L36.57 12.84 L37.39 14.35 L38.05 15.93 L38.54 17.57 L38.86 19.26 L38.99 20.97 L39.10 22.70 L39.07 24.45 L38.85 26.21 L38.44 27.96 L37.85 29.68 L37.06 31.34 L36.10 32.93 L34.96 34.43 L33.68 35.84 L32.23 37.12 L30.64 38.26 L28.92 39.23 L27.07 40.03 L25.13 40.63 L23.11 41.03 L21.03 41.30 L18.90 41.38 L16.73 41.22 L14.56 40.82 L12.40 40.18 L10.30 39.30 L8.26 38.19 L6.33 36.84 M6.86 24.39 L6.56 22.73 L6.42 21.05 L6.46 19.35 L6.68 17.65 L7.08 15.98 L7.65 14.35 L8.39 12.78 L9.29 11.28 L10.36 9.88 L11.57 8.60 L12.91 7.44 L14.38 6.42 L15.96 5.56 L17.62 4.86 L19.36 4.34 L21.15 4.01 L22.98 3.88 L24.81 4.01 L26.62 4.34 L28.38 4.85 L30.08 5.54 L31.70 6.41 L33.21 7.44 L34.62 8.63 L35.89 9.95 L37.01 11.40 L37.98 12.96 L38.78 14.62 L39.40 16.34 L39.84 18.13 L40.09 19.95 L40.18 21.78 L40.21 23.64 L40.04 25.51 L39.67 27.36 L39.11 29.19 L38.35 30.95 L37.39 32.65 L36.26 34.25 L34.96 35.74 L33.50 37.11 L31.89 38.33 L30.14 39.38 L28.27 40.24 L26.31 40.92 L24.26 41.38 L22.16 41.66 L20.00 41.80 L17.82 41.71 L15.62 41.39 L13.44 40.82 L11.30 40.02 L9.23 38.98 L7.26 37.70 L5.41 36.21 M5.77 23.77 L5.51 22.00 L5.43 20.20 L5.55 18.39 L5.86 16.60 L6.36 14.84 L7.04 13.13 L7.90 11.49 L8.94 9.94 L10.14 8.50 L11.49 7.18 L12.98 6.01 L14.60 5.00 L16.32 4.15 L18.13 3.49 L20.02 3.02 L21.95 2.75 L23.90 2.75 L25.85 2.98 L27.75 3.42 L29.61 4.06 L31.38 4.89 L33.06 5.90 L34.62 7.07 L36.05 8.41 L37.34 9.89 L38.46 11.49 L39.41 13.20 L40.17 15.00 L40.74 16.88 L41.12 18.80 L41.29 20.75 L41.34 22.71 L41.23 24.69 L40.92 26.65 L40.39 28.59 L39.66 30.47 L38.73 32.28 L37.61 33.99 L36.30 35.59 L34.82 37.05 L33.19 38.35 L31.42 39.49 L29.53 40.43 L27.53 41.18 L25.46 41.72 L23.32 42.04 L21.14 42.22 L18.93 42.20 L16.71 41.95 L14.50 41.46 L12.33 40.72 L10.22 39.75 L8.21 38.55 L6.31 37.13 L4.55 35.50 M26.03 23.46 L25.90 24.07 L25.66 24.68 L25.31 25.27 L24.85 25.82 L24.29 26.32 L23.64 26.75 L22.90 27.08 L22.08 27.31 L21.21 27.41 L20.30 27.38 L19.38 27.22 L18.45 26.90 L17.56 26.44 L16.71 25.84 L15.94 25.09 L15.27 24.22 L14.71 23.22 L14.29 22.13 L14.03 20.95 L13.94 19.72 L14.03 18.45 M26.97 24.03 L26.75 24.76 L26.41 25.48 L25.94 26.17 L25.35 26.80 L24.65 27.36 L23.85 27.83 L22.96 28.18 L21.99 28.40 L20.96 28.48 L19.91 28.41 L18.84 28.18 L17.79 27.78 L16.78 27.22 L15.83 26.50 L14.98 25.62 L14.24 24.61 L13.64 23.47 L13.20 22.22 L12.93 20.89 L12.86 19.51 L12.99 18.09" fill="none" stroke="url(#lg)" stroke-width="0.85" stroke-linecap="round"/></svg></div>
</body></html>
